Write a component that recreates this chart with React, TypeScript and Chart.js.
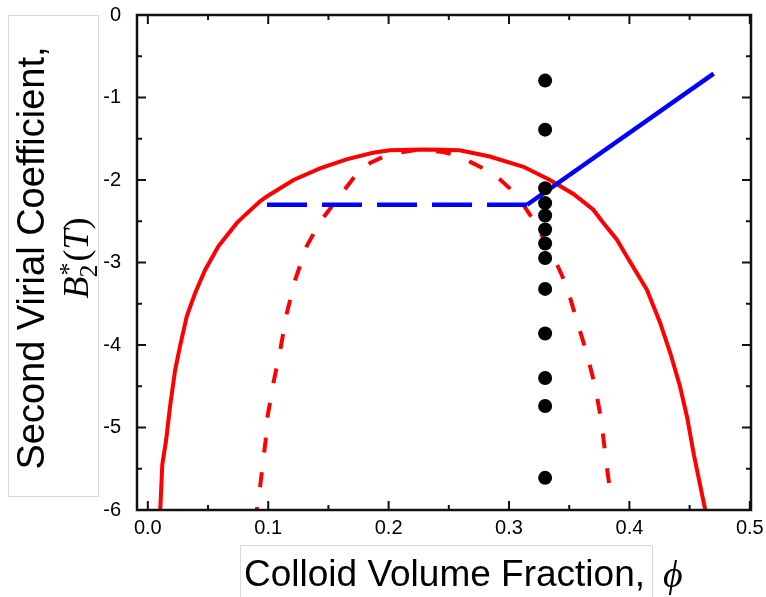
import React, { useEffect, useRef } from "react";
import { Chart, registerables } from "chart.js";

Chart.register(...registerables);

// ---- axis ticks ----
const xTickValues = [0, 0.1, 0.2, 0.3, 0.4, 0.5];
const xTickLabels = ["0.0", "0.1", "0.2", "0.3", "0.4", "0.5"];
const xMinorTicks = [0.05, 0.15, 0.25, 0.35, 0.45];
const yTickValues = [-6, -5, -4, -3, -2, -1, 0];
const yTickLabels = ["-6", "-5", "-4", "-3", "-2", "-1", "0"];
const yMinorTicks = [-5.5, -4.5, -3.5, -2.5, -1.5, -0.5];

// ---- binodal (red solid) ----
const binodalPhi = [
  0.0103, 0.012, 0.0152, 0.0185, 0.0227, 0.0268, 0.0324, 0.0393, 0.0476, 0.0587,
  0.0642, 0.074, 0.0767, 0.093, 0.0988, 0.121, 0.143, 0.165, 0.187, 0.201,
  0.229, 0.243, 0.259, 0.284, 0.312, 0.334, 0.3535, 0.37, 0.3784, 0.3895,
  0.398, 0.4145, 0.4255, 0.434, 0.442, 0.448, 0.4537, 0.463,
];
const binodalB = [
  -6.0, -5.45, -5.15, -4.74, -4.3, -4.01, -3.65, -3.37, -3.09, -2.8,
  -2.7, -2.52, -2.48, -2.26, -2.2, -2.0, -1.86, -1.75, -1.67, -1.64,
  -1.63, -1.634, -1.64, -1.715, -1.84, -2.0, -2.17, -2.36, -2.52, -2.72,
  -2.93, -3.33, -3.73, -4.1, -4.5, -4.88, -5.34, -6.0,
];

// ---- spinodal (red dashed) ----
const spinodalPhi = [
  0.0905, 0.093, 0.0978, 0.0988, 0.1043, 0.11, 0.1155, 0.1224, 0.132, 0.1435,
  0.16, 0.176, 0.185, 0.2, 0.225, 0.245, 0.2566, 0.287, 0.3065, 0.32,
  0.337, 0.348, 0.356, 0.3646, 0.3715, 0.377, 0.3805, 0.3848,
];
const spinodalB = [
  -6.0, -5.75, -5.16, -4.92, -4.46, -4.06, -3.61, -3.21, -2.8, -2.5,
  -2.18, -1.88, -1.79, -1.69, -1.63, -1.66, -1.7, -1.92, -2.18, -2.48,
  -2.93, -3.29, -3.69, -4.1, -4.5, -4.94, -5.4, -5.85,
];

// ---- blue lines ----
const tieLinePhi = [0.099, 0.315];
const tieLineB = [-2.3, -2.3];
const blueSolidPhi = [0.315, 0.47];
const blueSolidB = [-2.3, -0.71];

// ---- simulation points (black dots) ----
const dotPhi = 0.33;
const dotB = [-0.795, -1.39, -2.1, -2.28, -2.43, -2.6, -2.77, -2.945, -3.32, -3.86, -4.4, -4.74, -5.61];

const zip = (xs: number[], ys: number[]) => xs.map((x, i) => ({ x, y: ys[i] }));

const SANS = '"Liberation Sans", Arial, Helvetica, sans-serif';
const SERIF = '"Liberation Serif", "Times New Roman", "DejaVu Serif", serif';

const overlayPlugin = {
  id: "overlay",
  afterDatasetsDraw(chart: any) {
    const { ctx, chartArea: a, scales } = chart;
    const xs = scales.x;
    const ys = scales.y;
    ctx.save();
    ctx.strokeStyle = "#111";
    ctx.lineWidth = 2;
    ctx.beginPath();
    const xt = (v: number, len: number) => {
      const p = xs.getPixelForValue(v);
      ctx.moveTo(p, a.bottom);
      ctx.lineTo(p, a.bottom - len);
      ctx.moveTo(p, a.top);
      ctx.lineTo(p, a.top + len);
    };
    const yt = (v: number, len: number) => {
      const p = ys.getPixelForValue(v);
      ctx.moveTo(a.left, p);
      ctx.lineTo(a.left + len, p);
      ctx.moveTo(a.right, p);
      ctx.lineTo(a.right - len, p);
    };
    xTickValues.forEach((v) => xt(v, 9));
    xMinorTicks.forEach((v) => xt(v, 5));
    yTickValues.forEach((v) => yt(v, 9));
    yMinorTicks.forEach((v) => yt(v, 5));
    ctx.stroke();
    ctx.lineWidth = 2.5;
    ctx.strokeRect(a.left, a.top, a.right - a.left, a.bottom - a.top);
    ctx.restore();
  },
  afterDraw(chart: any) {
    const { ctx } = chart;
    ctx.save();
    // y-title box
    ctx.strokeStyle = "#d9d9d9";
    ctx.lineWidth = 1;
    ctx.strokeRect(8.5, 15.5, 90, 481);
    // x-title box
    ctx.strokeRect(240.5, 545.5, 412, 70);

    ctx.fillStyle = "#000";
    // y title line 1
    ctx.save();
    ctx.translate(44, 258);
    ctx.rotate(-Math.PI / 2);
    ctx.font = `38px ${SANS}`;
    ctx.textAlign = "center";
    ctx.textBaseline = "alphabetic";
    ctx.fillText("Second Virial Coefficient,", 0, 0);
    ctx.restore();

    // y title line 2: B*_2(T)
    ctx.save();
    ctx.translate(88, 258);
    ctx.rotate(-Math.PI / 2);
    ctx.textAlign = "left";
    ctx.textBaseline = "alphabetic";
    const fB = `italic 36px ${SERIF}`;
    const fSup = `26px ${SERIF}`;
    const fSub = `26px ${SERIF}`;
    const fP = `36px ${SERIF}`;
    ctx.font = fB;
    const wB = ctx.measureText("B").width;
    ctx.font = fSup;
    const wStar = ctx.measureText("*").width;
    ctx.font = fSub;
    const wTwo = ctx.measureText("2").width;
    ctx.font = fP;
    const wL = ctx.measureText("(").width;
    const wR = ctx.measureText(")").width;
    ctx.font = fB;
    const wT = ctx.measureText("T").width;
    const wSS = Math.max(wStar, wTwo) + 2;
    const total = wB + wSS + wL + wT + wR;
    let cx = -total / 2;
    ctx.font = fB;
    ctx.fillText("B", cx, 0);
    cx += wB;
    ctx.font = fSup;
    ctx.fillText("*", cx + 1, -11);
    ctx.font = fSub;
    ctx.fillText("2", cx - 1, 9);
    cx += wSS;
    ctx.font = fP;
    ctx.fillText("(", cx, 0);
    cx += wL;
    ctx.font = fB;
    ctx.fillText("T", cx, 0);
    cx += wT;
    ctx.font = fP;
    ctx.fillText(")", cx, 0);
    ctx.restore();

    // x title
    ctx.font = `37px ${SANS}`;
    ctx.textAlign = "left";
    ctx.textBaseline = "alphabetic";
    ctx.fillText("Colloid Volume Fraction,", 244, 586);
    ctx.font = `italic 38px ${SERIF}`;
    ctx.fillText("\u03D5", 663, 587);
    ctx.restore();
  },
};

export default function App() {
  const canvasRef = useRef<HTMLCanvasElement | null>(null);

  useEffect(() => {
    const canvas = canvasRef.current;
    if (!canvas) return;
    const tickFont = { family: SANS, size: 20 };
    const chart = new Chart(canvas, {
      type: "scatter",
      data: {
        datasets: [
          {
            label: "Simulation",
            data: dotB.map((y) => ({ x: dotPhi, y })),
            backgroundColor: "#000",
            borderWidth: 0,
            pointRadius: 7,
            pointStyle: "circle",
            showLine: false,
          },
          {
            label: "Blue solid",
            data: zip(blueSolidPhi, blueSolidB),
            showLine: true,
            borderColor: "#0000ff",
            borderWidth: 4.5,
            pointRadius: 0,
          },
          {
            label: "Tie line",
            data: zip(tieLinePhi, tieLineB),
            showLine: true,
            borderColor: "#0000ff",
            borderWidth: 4.5,
            borderDash: [40, 15],
            pointRadius: 0,
          },
          {
            label: "Spinodal",
            data: zip(spinodalPhi, spinodalB),
            showLine: true,
            borderColor: "#ff0000",
            borderWidth: 4,
            borderDash: [15, 20],
            borderDashOffset: 12,
            pointRadius: 0,
          },
          {
            label: "Binodal",
            data: zip(binodalPhi, binodalB),
            showLine: true,
            borderColor: "#ff0000",
            borderWidth: 4,
            pointRadius: 0,
          },
        ],
      },
      options: {
        animation: false,
        responsive: false,
        maintainAspectRatio: false,
        devicePixelRatio: 1,
        layout: { padding: { left: 0, right: 15, top: 15, bottom: 0 } },
        plugins: {
          legend: { display: false },
          tooltip: { enabled: false },
          title: { display: false },
        },
        scales: {
          x: {
            type: "linear",
            min: -0.009,
            max: 0.501,
            grid: { display: false, drawTicks: false },
            border: { display: false },
            ticks: {
              font: tickFont,
              color: "#000",
              padding: 6,
              maxRotation: 0,
              autoSkip: false,
              callback: (value: any) => {
                const i = xTickValues.findIndex((t) => Math.abs(t - Number(value)) < 1e-9);
                return i >= 0 ? xTickLabels[i] : "";
              },
            },
            afterBuildTicks: (s: any) => {
              s.ticks = xTickValues.map((v) => ({ value: v }));
            },
            afterFit: (s: any) => {
              s.height = 87;
              s.paddingLeft = 0;
              s.paddingRight = 0;
            },
          },
          y: {
            type: "linear",
            min: -6,
            max: 0,
            grid: { display: false, drawTicks: false },
            border: { display: false },
            ticks: {
              font: tickFont,
              color: "#000",
              padding: 16,
              autoSkip: false,
              callback: (value: any) => {
                const i = yTickValues.findIndex((t) => Math.abs(t - Number(value)) < 1e-9);
                return i >= 0 ? yTickLabels[i] : "";
              },
            },
            afterBuildTicks: (s: any) => {
              s.ticks = yTickValues.map((v) => ({ value: v }));
            },
            afterFit: (s: any) => {
              s.width = 137;
              s.paddingTop = 0;
              s.paddingBottom = 0;
            },
          },
        },
      },
      plugins: [overlayPlugin],
    });
    return () => chart.destroy();
  }, []);

  return (
    <div style={{ position: "fixed", left: 0, top: 0, width: 766, height: 597, background: "#fff" }}>
      <canvas ref={canvasRef} width={766} height={597} style={{ display: "block" }} />
    </div>
  );
}
